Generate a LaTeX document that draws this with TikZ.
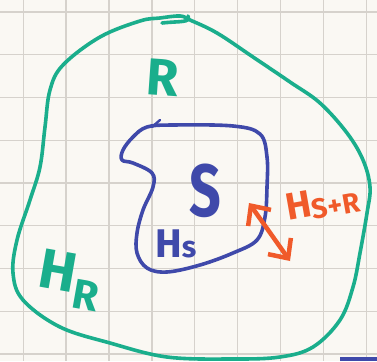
\documentclass[tikz,border=0pt]{standalone}
\usepackage{fontspec}
\setmainfont{Fira Sans}
\usetikzlibrary{arrows.meta}
\definecolor{paper}{HTML}{FAF8F3}
\definecolor{gridc}{HTML}{D6D2CC}
\definecolor{resgreen}{HTML}{1AAE8C}
\definecolor{sysblue}{HTML}{3F49AA}
\definecolor{intorange}{HTML}{F05A2A}
\tikzset{
  pen/.style={line width=3.6pt,line cap=round,line join=round},
  lbl/.style={inner sep=0pt,font=\fontsize{#1}{#1}\selectfont\bfseries},
}

\begin{document}
\begin{tikzpicture}[x=1pt,y=-1pt,>={Straight Barb[length=15pt,width=28pt,line width=4.5pt]}]
% paper and grid
\fill[paper] (0,0) rectangle (377,361);
\useasboundingbox (0,0) rectangle (377,361);
\foreach \i in {0,...,8}{
  \draw[gridc,line width=1.3pt] ({23.2+42.9*\i},0) -- ({23.2+42.9*\i},361);
  \draw[gridc,line width=1.3pt] (0,{12+42.75*\i}) -- (377,{12+42.75*\i});
}
% reservoir R (green)
\draw[pen,resgreen] plot[smooth cycle,tension=0.6] coordinates {
  (50,90) (63,65) (100,37) (140,21) (160,18) (180,16) (190,20) (217,33) (253,57)
  (290,82) (320,103) (347,133) (363,160) (370,187) (367,213) (360,253)
  (353,287) (340,320) (313,347) (280,357) (233,359) (167,357) (110,343)
  (60,327) (23,300) (13,273) (17,240) (30,200) (40,167) (45,127)};
\draw[pen,resgreen] (162,23) .. controls (180,21) and (191,23) .. (188,16);
% system S (blue)
\draw[pen,sysblue] plot[smooth cycle,tension=0.6] coordinates {
  (173,125) (233,126) (260,134) (267,157) (267,187) (265,217) (257,240)
  (233,253) (200,265) (167,272) (147,268) (137,253) (137,233) (143,210)
  (153,187) (152,173) (133,163) (122,160) (123,150) (133,137) (147,127)};
\draw[pen,sysblue,line width=2.4pt] (152,127) -- (160,120);
\draw[sysblue,line width=4pt] (340,359) -- (377,359);
% labels
\node[lbl=52,resgreen,rotate=-4] (rlab) at (163,78) {R};
\node[lbl=56,resgreen,rotate=-10,anchor=base west] (hr) at (36,286) {H\raisebox{-15pt}{\fontsize{42}{42}\selectfont R}};
\node[lbl=74,sysblue,xscale=0.75] (slab) at (205,191) {S};
\node[lbl=40,sysblue,anchor=base west] (hs) at (155,257) {H\fontsize{30}{30}\selectfont s};
\node[lbl=38,intorange,rotate=10,anchor=base west] (hsr) at (288,221) {H\fontsize{28}{28}\selectfont\raisebox{-3pt}{S+R}};
% coupling H_{S+R}
\coordinate (top) at (249,203);
\coordinate (bot) at (290,261);
\draw[pen,intorange,line width=4.5pt,<->] (top) -- (bot);
\end{tikzpicture}
\end{document}
